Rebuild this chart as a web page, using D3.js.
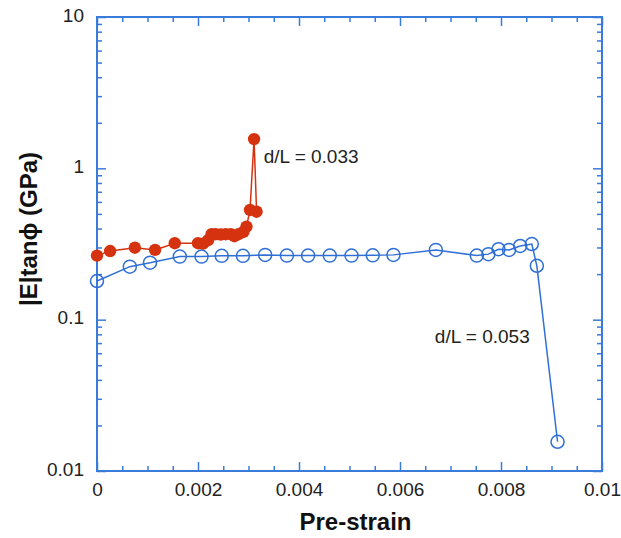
<!DOCTYPE html>
<html>
<head>
<meta charset="utf-8">
<script src="https://cdn.jsdelivr.net/npm/d3@7"></script>
<style>
  body { margin: 0; background: #fff; }
  svg { font-family: "Liberation Sans", Arial, sans-serif; }
</style>
</head>
<body>
<div id="chart"></div>
<script>
// d/L = 0.033 (filled red)
const redStrain = [0, 0.00026, 0.00075, 0.00115, 0.00154, 0.00200, 0.00210, 0.00220, 0.00227, 0.00235,
  0.00245, 0.00255, 0.00265, 0.00272, 0.00280, 0.00290, 0.00296, 0.00303, 0.00311, 0.00316];
const redValue = [0.265, 0.284, 0.299, 0.289, 0.320, 0.320, 0.318, 0.335, 0.367, 0.367,
  0.365, 0.367, 0.367, 0.356, 0.367, 0.380, 0.412, 0.531, 1.56, 0.517];

// d/L = 0.053 (open blue)
const blueStrain = [0, 0.00065, 0.00105, 0.00164, 0.00207, 0.00247, 0.00289, 0.00333, 0.00376, 0.00418,
  0.00461, 0.00504, 0.00546, 0.00587, 0.00671, 0.00752, 0.00775, 0.00795, 0.00816, 0.00838,
  0.00861, 0.00871, 0.00912];
const blueValue = [0.18, 0.224, 0.238, 0.261, 0.261, 0.264, 0.264, 0.268, 0.265, 0.265,
  0.265, 0.265, 0.266, 0.268, 0.289, 0.265, 0.271, 0.292, 0.289, 0.307,
  0.316, 0.227, 0.0156];

const xTicks = [0, 0.002, 0.004, 0.006, 0.008, 0.01];
const xTickLabels = ["0", "0.002", "0.004", "0.006", "0.008", "0.01"];
const yTicks = [10, 1, 0.1, 0.01];
const yTickLabels = ["10", "1", "0.1", "0.01"];

const margin = { top: 17, right: 19, bottom: 67, left: 97 },
    width = 621 - margin.left - margin.right,
    height = 538 - margin.top - margin.bottom;

const axisColor = "#3a7ad8";
const blue = "#2f6fd6";
const red = "#d5330f";

let x = d3.scaleLinear().domain([0, 0.01]).range([0, width]);
let y = d3.scaleLog().domain([0.01, 10]).range([height, 0]);

let svg = d3.select("#chart").append("svg")
    .attr("width", 621)
    .attr("height", 538);

let graph = svg.append("g")
    .attr("transform", "translate(" + margin.left + "," + margin.top + ")");

// minor tick values
let xMinor = d3.range(0, 21).map(i => i * 0.0005).filter(v => Math.round(v * 2000) % 4 !== 0);
let yMinor = [];
[0.01, 0.1, 1].forEach(d => { for (let k = 2; k <= 9; k++) yMinor.push(d * k); });

function styleAxis(g) {
    g.select(".domain").remove();
    g.selectAll(".tick line").attr("stroke", axisColor).attr("stroke-width", 1.5);
    g.selectAll(".tick text").attr("fill", "#222").attr("font-size", 19);
}

// bottom
graph.append("g").attr("transform", "translate(0," + height + ")")
    .call(d3.axisBottom(x).tickValues(xTicks).tickSize(-9).tickPadding(11.5)
        .tickFormat((d, i) => xTickLabels[i]))
    .call(styleAxis);
graph.append("g").attr("transform", "translate(0," + height + ")")
    .call(d3.axisBottom(x).tickValues(xMinor).tickSize(-5).tickFormat(""))
    .call(styleAxis);
// top
graph.append("g")
    .call(d3.axisTop(x).tickValues(xTicks).tickSize(-9).tickFormat(""))
    .call(styleAxis);
graph.append("g")
    .call(d3.axisTop(x).tickValues(xMinor).tickSize(-5).tickFormat(""))
    .call(styleAxis);
// left
graph.append("g")
    .call(d3.axisLeft(y).tickValues(yTicks).tickSize(-9).tickPadding(13)
        .tickFormat((d, i) => yTickLabels[i]))
    .call(styleAxis)
    .selectAll(".tick text").attr("dy", "0.21em");
graph.append("g")
    .call(d3.axisLeft(y).tickValues(yMinor).tickSize(-5).tickFormat(""))
    .call(styleAxis);
// right
graph.append("g").attr("transform", "translate(" + width + ",0)")
    .call(d3.axisRight(y).tickValues(yTicks).tickSize(-9).tickFormat(""))
    .call(styleAxis);
graph.append("g").attr("transform", "translate(" + width + ",0)")
    .call(d3.axisRight(y).tickValues(yMinor).tickSize(-5).tickFormat(""))
    .call(styleAxis);

// frame
graph.append("rect")
    .attr("width", width).attr("height", height)
    .attr("fill", "none").attr("stroke", axisColor).attr("stroke-width", 2);

let line = d3.line().x(d => x(d[0])).y(d => y(d[1]));

// blue series
let blueData = blueStrain.map((s, i) => [s, blueValue[i]]);
graph.append("path").datum(blueData)
    .attr("d", line).attr("fill", "none").attr("stroke", blue).attr("stroke-width", 1.5);
graph.selectAll(".bdot").data(blueData).enter().append("circle")
    .attr("class", "bdot")
    .attr("cx", d => x(d[0])).attr("cy", d => y(d[1])).attr("r", 6.5)
    .attr("fill", "none").attr("stroke", blue).attr("stroke-width", 1.5);

// red series
let redData = redStrain.map((s, i) => [s, redValue[i]]);
graph.append("path").datum(redData)
    .attr("d", line).attr("fill", "none").attr("stroke", red).attr("stroke-width", 1.5);
graph.selectAll(".rdot").data(redData).enter().append("circle")
    .attr("class", "rdot")
    .attr("cx", d => x(d[0])).attr("cy", d => y(d[1])).attr("r", 6.2)
    .attr("fill", red);

// annotations
graph.append("text")
    .attr("x", x(0.0033)).attr("y", y(1.56) + 24)
    .attr("font-size", 19).attr("fill", "#222")
    .text("d/L = 0.033");
graph.append("text")
    .attr("x", x(0.00669)).attr("y", y(0.07))
    .attr("font-size", 19).attr("fill", "#222")
    .text("d/L = 0.053");

// axis titles
svg.append("text")
    .attr("x", margin.left + width / 2 + 6).attr("y", 530)
    .attr("text-anchor", "middle")
    .attr("font-size", 24).attr("font-weight", "bold").attr("fill", "#111")
    .text("Pre-strain");
svg.append("text")
    .attr("transform", "translate(37,229) rotate(-90)")
    .attr("text-anchor", "middle")
    .attr("font-size", 24).attr("font-weight", "bold").attr("fill", "#111")
    .text("|E|tanϕ (GPa)");
</script>
</body>
</html>
